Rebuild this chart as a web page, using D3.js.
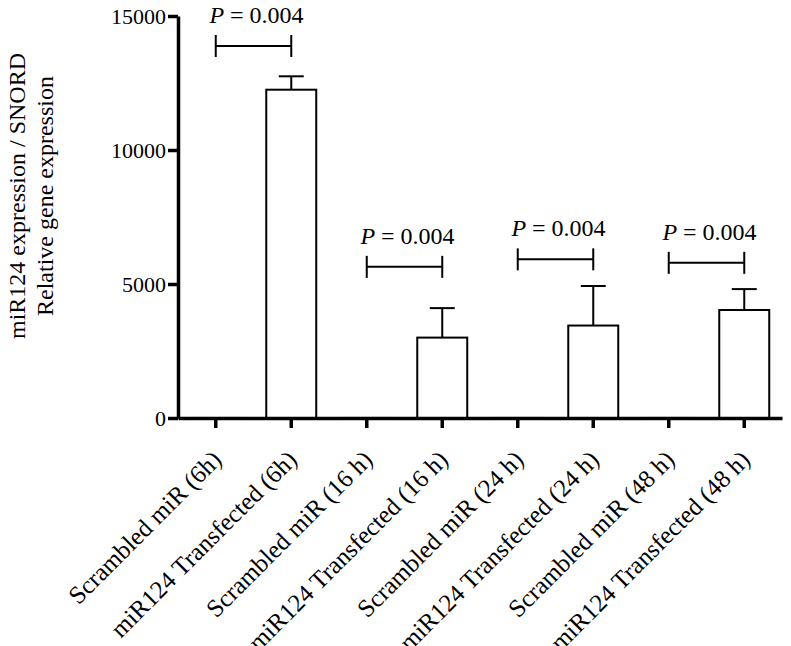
<!DOCTYPE html>
<html>
<head>
<meta charset="utf-8">
<script src="https://cdn.jsdelivr.net/npm/d3@7"></script>
<style>
  body { margin: 0; background: #fff; }
  text { font-family: "Liberation Serif", "Times New Roman", serif; fill: #000; }
</style>
</head>
<body>
<div id="chart"></div>
<script>
var w = 791;
var h = 646;

// data
var categories = [
  "Scrambled miR (6h)", "miR124 Transfected (6h)",
  "Scrambled miR (16 h)", "miR124 Transfected (16 h)",
  "Scrambled miR (24 h)", "miR124 Transfected (24 h)",
  "Scrambled miR (48 h)", "miR124 Transfected (48 h)"
];
var means = [1, 12250, 1, 3000, 1, 3450, 1, 4030];
var errors = [0, 500, 0, 1100, 0, 1475, 0, 780];
var yTicks = [0, 5000, 10000, 15000];

// significance brackets: from category, to category, height, label
var bracketFrom = [0, 2, 4, 6];
var bracketTo = [1, 3, 5, 7];
var bracketY = [13880, 5640, 5920, 5790];
var bracketLabel = ["0.004", "0.004", "0.004", "0.004"];

var margin = {top: 16, left: 178, right: 9, bottom: 228},
    width = w - margin.left - margin.right,
    height = h - margin.top - margin.bottom;

var svg = d3.select("#chart")
    .append("svg")
    .attr("width", w)
    .attr("height", h);

var g = svg.append("g")
    .attr("transform", "translate(" + margin.left + "," + margin.top + ")");

var x = d3.scaleBand()
    .domain(categories)
    .range([0, width])
    .paddingInner(0.338)
    .paddingOuter(0.169);

var y = d3.scaleLinear()
    .domain([0, 15000])
    .range([height, 0]);

// bars
g.selectAll(".bar")
    .data(categories)
    .enter().append("rect")
    .attr("class", "bar")
    .attr("x", function(d) { return x(d); })
    .attr("width", x.bandwidth())
    .attr("y", function(d, i) { return y(means[i]); })
    .attr("height", function(d, i) { return y(0) - y(means[i]); })
    .attr("fill", "white")
    .attr("stroke", "black")
    .attr("stroke-width", 2);

// error bars (upper only)
var capHalf = x.bandwidth() / 4;
var err = g.selectAll(".err")
    .data(categories.filter(function(d, i) { return errors[i] > 0; }))
    .enter().append("g")
    .attr("class", "err");

err.append("line")
    .attr("x1", function(d) { return x(d) + x.bandwidth() / 2; })
    .attr("x2", function(d) { return x(d) + x.bandwidth() / 2; })
    .attr("y1", function(d) { var i = categories.indexOf(d); return y(means[i]); })
    .attr("y2", function(d) { var i = categories.indexOf(d); return y(means[i] + errors[i]); })
    .attr("stroke", "black").attr("stroke-width", 2);

err.append("line")
    .attr("x1", function(d) { return x(d) + x.bandwidth() / 2 - capHalf; })
    .attr("x2", function(d) { return x(d) + x.bandwidth() / 2 + capHalf; })
    .attr("y1", function(d) { var i = categories.indexOf(d); return y(means[i] + errors[i]); })
    .attr("y2", function(d) { var i = categories.indexOf(d); return y(means[i] + errors[i]); })
    .attr("stroke", "black").attr("stroke-width", 2);

// axes
var yAxis = d3.axisLeft(y)
    .tickValues(yTicks)
    .tickFormat(d3.format("d"))
    .tickSize(10)
    .tickPadding(2)
    .tickSizeOuter(0);

var ya = g.append("g").call(yAxis);
ya.select(".domain").attr("stroke-width", 3.5);
ya.selectAll(".tick line").attr("stroke-width", 3.5);
ya.selectAll(".tick text")
    .style("font-family", "Liberation Serif")
    .style("font-size", "22px");

var xAxis = d3.axisBottom(x)
    .tickSize(10)
    .tickSizeOuter(0);

var xa = g.append("g")
    .attr("transform", "translate(0," + height + ")")
    .call(xAxis);
xa.select(".domain").attr("stroke-width", 3.5);
xa.selectAll(".tick line").attr("stroke-width", 3.5);
xa.selectAll(".tick text")
    .style("font-family", "Liberation Serif")
    .style("font-size", "25px")
    .attr("text-anchor", "end")
    .attr("transform", "translate(1,37) rotate(-45)")
    .attr("dy", "0.35em")
    .attr("y", 0)
    .attr("x", 0);

// significance brackets
var cx = function(i) { return x(categories[i]) + x.bandwidth() / 2; };
bracketFrom.forEach(function(f, k) {
    var x1 = cx(f), x2 = cx(bracketTo[k]), yy = y(bracketY[k]);
    var b = g.append("g");
    b.append("line").attr("x1", x1).attr("x2", x2).attr("y1", yy).attr("y2", yy)
        .attr("stroke", "black").attr("stroke-width", 2);
    [x1, x2].forEach(function(xx) {
        b.append("line").attr("x1", xx).attr("x2", xx).attr("y1", yy - 11).attr("y2", yy + 11)
            .attr("stroke", "black").attr("stroke-width", 2);
    });
    var t = b.append("text")
        .attr("x", (x1 + x2) / 2 + 3)
        .attr("y", yy - 23)
        .attr("text-anchor", "middle")
        .style("font-size", "24px");
    t.append("tspan").style("font-style", "italic").text("P");
    t.append("tspan").text(" = " + bracketLabel[k]);
});

// y-axis title (two lines)
var title = svg.append("text")
    .attr("transform", "translate(25," + (margin.top + 180) + ") rotate(-90)")
    .attr("text-anchor", "middle")
    .style("font-size", "24px");
title.append("tspan").attr("x", 0).attr("dy", 0).text("miR124 expression / SNORD");
title.append("tspan").attr("x", 0).attr("dy", "28px").text("Relative gene expression");
</script>
</body>
</html>
